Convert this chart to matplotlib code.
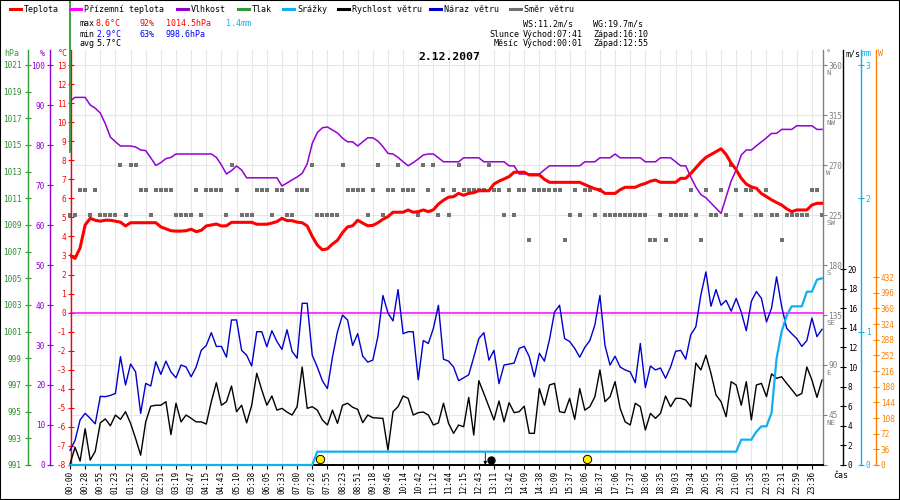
import matplotlib
matplotlib.use("Agg")
import matplotlib.pyplot as plt
import matplotlib.transforms as mtrans
from matplotlib.lines import Line2D
from matplotlib.patches import Rectangle
import numpy as np

plt.rcParams["font.family"] = ["DejaVu Sans Mono", "DejaVu Sans"]
plt.rcParams["axes.unicode_minus"] = False

# ---------------------------------------------------------------- data
DATE = "2.12.2007"
TIME_LABELS = ["00:00", "00:28", "00:55", "01:23", "01:52", "02:20", "02:51", "03:19", "03:47", "04:15",
               "04:43", "05:10", "05:38", "06:05", "06:33", "07:00", "07:28", "07:55", "08:23", "08:51",
               "09:18", "09:46", "10:14", "10:42", "11:12", "11:44", "12:15", "12:43", "13:11", "13:42",
               "14:09", "14:38", "15:09", "15:37", "16:06", "16:37", "17:06", "17:37", "18:06", "18:35",
               "19:03", "19:34", "20:05", "20:33", "21:00", "21:35", "22:03", "22:31", "22:59", "23:36"]
LABEL_EVERY = 3          # one time label every 3 samples

TEMP = [3.0, 2.85, 3.4, 4.6, 4.95, 4.85, 4.8, 4.85, 4.85, 4.8,
        4.75, 4.55, 4.72, 4.72, 4.72, 4.72, 4.72, 4.72, 4.5, 4.4,
        4.3, 4.28, 4.28, 4.3, 4.38, 4.25, 4.32, 4.55, 4.6, 4.65,
        4.55, 4.56, 4.74, 4.74, 4.74, 4.74, 4.74, 4.64, 4.64, 4.64,
        4.7, 4.78, 4.95, 4.83, 4.83, 4.75, 4.72, 4.55, 4.0, 3.55,
        3.3, 3.35, 3.6, 3.8, 4.2, 4.5, 4.56, 4.85, 4.7, 4.56,
        4.58, 4.72, 4.9, 5.04, 5.27, 5.27, 5.27, 5.39, 5.27, 5.3,
        5.39, 5.3, 5.4, 5.7, 5.9, 6.06, 6.09, 6.26, 6.16, 6.26,
        6.3, 6.4, 6.4, 6.4, 6.75, 6.9, 7.02, 7.14, 7.37, 7.37,
        7.37, 7.23, 7.23, 7.23, 7.0, 6.84, 6.84, 6.84, 6.84, 6.84,
        6.84, 6.84, 6.72, 6.61, 6.5, 6.44, 6.26, 6.26, 6.26, 6.45,
        6.58, 6.58, 6.58, 6.7, 6.78, 6.9, 6.96, 6.84, 6.84, 6.84,
        6.84, 7.05, 7.05, 7.3, 7.6, 7.9, 8.15, 8.3, 8.45, 8.6,
        8.3, 7.85, 7.5, 7.05, 6.75, 6.6, 6.53, 6.25, 6.09, 5.92,
        5.78, 5.65, 5.45, 5.3, 5.39, 5.39, 5.39, 5.65, 5.74, 5.74]

GROUND_TEMP = 0.0

HUMIDITY = [91.0, 91.9, 91.9, 91.9, 90.0, 89.2, 88.0, 85.3, 82.0, 80.8,
            79.75, 79.75, 79.75, 79.5, 78.75, 78.6, 76.8, 74.9, 75.6, 76.6,
            76.9, 77.75, 77.75, 77.75, 77.75, 77.75, 77.75, 77.75, 77.75, 76.9,
            75.0, 72.75, 73.6, 74.75, 73.75, 71.8, 71.8, 71.8, 71.8, 71.8,
            71.8, 71.8, 69.75, 70.5, 71.3, 72.0, 72.9, 75.3, 80.4, 83.1,
            84.3, 84.5, 83.75, 83.0, 81.7, 80.8, 80.8, 79.75, 80.8, 81.8,
            81.8, 81.0, 79.6, 77.9, 77.75, 76.9, 75.8, 74.8, 75.6, 76.5,
            77.5, 77.75, 77.75, 76.8, 75.8, 75.8, 75.8, 75.8, 76.8, 76.8,
            76.8, 76.8, 75.8, 75.8, 75.8, 75.8, 75.8, 74.8, 74.8, 72.75,
            72.75, 72.75, 72.75, 72.75, 73.8, 74.8, 74.8, 74.8, 74.8, 74.8,
            74.8, 74.8, 75.8, 75.8, 75.8, 76.8, 76.8, 76.8, 77.75, 76.8,
            76.8, 76.8, 76.8, 76.8, 75.8, 75.8, 75.8, 76.8, 76.8, 76.8,
            75.8, 74.8, 74.8, 72.0, 69.5, 67.6, 66.8, 65.5, 64.2, 62.9,
            67.0, 71.0, 73.75, 77.5, 78.75, 78.75, 79.8, 80.8, 81.8, 82.9,
            82.9, 83.9, 83.9, 83.9, 84.8, 84.8, 84.8, 84.8, 83.9, 83.9]

PRESSURE_MAX = 1014.5     # only a vertical stub is drawn at the first sample

RAIN = [0, 0, 0, 0, 0, 0, 0, 0, 0, 0,
        0, 0, 0, 0, 0, 0, 0, 0, 0, 0,
        0, 0, 0, 0, 0, 0, 0, 0, 0, 0,
        0, 0, 0, 0, 0, 0, 0, 0, 0, 0,
        0, 0, 0, 0, 0, 0, 0, 0, 0, 0.1,
        0.1, 0.1, 0.1, 0.1, 0.1, 0.1, 0.1, 0.1, 0.1, 0.1,
        0.1, 0.1, 0.1, 0.1, 0.1, 0.1, 0.1, 0.1, 0.1, 0.1,
        0.1, 0.1, 0.1, 0.1, 0.1, 0.1, 0.1, 0.1, 0.1, 0.1,
        0.1, 0.1, 0.1, 0.1, 0.1, 0.1, 0.1, 0.1, 0.1, 0.1,
        0.1, 0.1, 0.1, 0.1, 0.1, 0.1, 0.1, 0.1, 0.1, 0.1,
        0.1, 0.1, 0.1, 0.1, 0.1, 0.1, 0.1, 0.1, 0.1, 0.1,
        0.1, 0.1, 0.1, 0.1, 0.1, 0.1, 0.1, 0.1, 0.1, 0.1,
        0.1, 0.1, 0.1, 0.1, 0.1, 0.1, 0.1, 0.1, 0.1, 0.1,
        0.1, 0.1, 0.1, 0.19, 0.19, 0.19, 0.25, 0.29, 0.29, 0.39,
        0.8, 1.0, 1.12, 1.19, 1.19, 1.19, 1.3, 1.3, 1.39, 1.4]

WIND = [0.1, 1.8, 0.4, 3.7, 0.5, 1.4, 4.3, 4.7, 4.0, 5.1,
        4.66, 5.44, 4.25, 2.7, 1.0, 4.4, 6.0, 6.1, 6.1, 6.46,
        3.1, 6.3, 4.4, 5.1, 4.76, 4.4, 4.4, 4.18, 6.46, 8.4,
        6.1, 6.46, 8.06, 5.44, 6.1, 4.3, 6.1, 9.36, 7.65, 6.1,
        7.04, 5.6, 5.78, 5.4, 5.1, 5.95, 10.0, 5.78, 5.95, 5.6,
        4.6, 4.08, 5.6, 4.25, 6.1, 6.3, 5.89, 5.68, 4.32, 5.1,
        4.83, 4.8, 4.76, 1.53, 5.44, 5.95, 7.04, 6.8, 5.1, 5.34,
        5.4, 5.1, 4.08, 4.3, 6.3, 4.25, 3.23, 4.08, 3.9, 6.9,
        3.06, 8.6, 7.3, 5.95, 4.6, 6.53, 4.4, 6.36, 5.34, 5.44,
        6.0, 3.23, 3.23, 7.8, 6.1, 8.16, 8.33, 5.44, 5.34, 6.8,
        4.66, 7.8, 5.6, 5.95, 6.97, 9.7, 6.46, 6.97, 8.5, 5.78,
        4.4, 4.08, 6.3, 5.95, 3.57, 5.27, 4.76, 5.27, 7.04, 5.95,
        6.8, 6.8, 6.63, 5.95, 10.4, 9.7, 11.2, 9.36, 7.14, 6.46,
        4.93, 8.5, 8.16, 6.1, 8.5, 4.6, 8.16, 8.33, 6.97, 9.3,
        8.85, 9.0, 8.33, 7.7, 7.04, 7.3, 10.0, 8.67, 6.9, 8.67]

GUST = [1.5, 2.5, 4.6, 5.27, 4.76, 4.2, 7.0, 6.97, 7.1, 7.3,
        11.05, 8.16, 10.3, 9.5, 5.27, 8.33, 8.06, 10.54, 9.25, 10.6,
        9.5, 8.9, 10.2, 10.0, 9.0, 10.0, 11.7, 12.2, 13.5, 12.1,
        12.1, 11.0, 14.8, 14.8, 11.7, 11.2, 10.1, 13.6, 13.6, 12.07,
        13.7, 12.6, 11.8, 13.8, 11.6, 10.9, 16.5, 16.5, 11.2, 10.0,
        8.6, 7.8, 11.0, 13.6, 15.3, 14.8, 12.2, 13.4, 11.1, 10.5,
        10.7, 13.1, 17.3, 15.5, 14.7, 17.9, 13.4, 13.6, 13.6, 8.7,
        12.7, 12.4, 13.95, 16.3, 10.8, 10.6, 10.0, 8.6, 8.9, 9.2,
        11.0, 12.9, 13.5, 10.7, 11.7, 8.3, 10.2, 10.3, 10.4, 11.9,
        12.1, 11.05, 9.0, 11.4, 10.6, 12.8, 15.6, 16.3, 12.9, 12.6,
        11.9, 11.0, 12.0, 12.7, 14.3, 17.3, 12.2, 10.2, 11.1, 10.0,
        9.7, 9.5, 8.4, 12.4, 7.9, 10.1, 9.7, 9.9, 8.85, 10.0,
        11.6, 11.7, 10.8, 13.3, 14.1, 17.35, 19.7, 16.2, 17.9, 16.3,
        16.8, 15.7, 17.0, 15.6, 13.7, 16.7, 17.7, 17.0, 14.6, 16.0,
        19.2, 16.2, 13.95, 13.4, 12.9, 12.1, 12.7, 15.0, 13.1, 13.85]

WIND_DIR = [225, 225, 247.5, 247.5, 225, 247.5, 225, 225, 225, 225,
            270, 225, 270, 270, 247.5, 247.5, 225, 247.5, 247.5, 247.5,
            247.5, 225, 225, 225, 225, 247.5, 225, 247.5, 247.5, 247.5,
            247.5, 225, 270, 247.5, 225, 225, 225, 247.5, 247.5, 247.5,
            225, 247.5, 247.5, 225, 225, 247.5, 247.5, 247.5, 270, 225,
            225, 225, 225, 225, 270, 247.5, 247.5, 247.5, 247.5, 225,
            247.5, 270, 225, 247.5, 247.5, 270, 247.5, 247.5, 247.5, 225,
            270, 247.5, 270, 225, 247.5, 225, 247.5, 270, 247.5, 247.5,
            247.5, 247.5, 247.5, 270, 247.5, 247.5, 225, 247.5, 225, 247.5,
            247.5, 202.5, 247.5, 247.5, 247.5, 247.5, 247.5, 247.5, 202.5, 225,
            247.5, 225, 247.5, 247.5, 225, 247.5, 225, 225, 225, 225,
            225, 225, 225, 225, 225, 202.5, 202.5, 225, 202.5, 225,
            225, 225, 225, 247.5, 225, 202.5, 247.5, 225, 225, 247.5,
            225, 270, 247.5, 225, 247.5, 247.5, 225, 225, 247.5, 225,
            225, 202.5, 225, 225, 225, 225, 225, 247.5, 247.5, 225]

DIR_TICKS = [0, 45, 90, 135, 180, 225, 270, 315, 360]
DIR_NAMES = ["", "NE", "E", "SE", "S", "SW", "W", "NW", "N"]

SUNRISE, SUNSET = "07:41", "16:10"
MOONRISE, MOONSET = "00:01", "12:55"
STATS = {"t_max": "8.6°C", "h_max": "92%", "p_max": "1014.5hPa", "r_sum": "1.4mm",
         "t_min": "2.9°C", "h_min": "63%", "p_min": "998.6hPa", "t_avg": "5.7°C",
         "ws": "11.2m/s", "wg": "19.7m/s"}

# ---------------------------------------------------------------- colours
C_T, C_GT, C_H, C_P = "#ff0000", "#ff00ff", "#9400d3", "#339933"
C_R, C_WS, C_WG, C_D = "#10b0f0", "#000000", "#0000cc", "#707070"
C_SOL = "#ff8000"

# ---------------------------------------------------------------- layout (pixels)
FW, FH = 900, 500
X0, X1, Y0, Y1 = 70, 823, 50, 465
FS = 5.6


def px(x, y):
    return x / FW, 1 - y / FH


def lim(lo, hi, y_hi):
    # value lo sits on the bottom edge, hi at pixel row y_hi
    return lo, lo + (hi - lo) * (Y1 - Y0) / (Y1 - y_hi)


def axis_frac(xpx):
    return (xpx - X0) / (X1 - X0)


def side_axis(ax, side, xpx, color, ticks, pad=1.5, length=4, direction="inout"):
    for s in ax.spines.values():
        s.set_visible(False)
    sp = ax.spines[side]
    sp.set_visible(True)
    sp.set_position(("axes", axis_frac(xpx)))
    sp.set_color(color)
    sp.set_linewidth(1.0)
    ax.yaxis.set_ticks_position(side)
    ax.set_yticks(ticks)
    ax.tick_params(axis="y", direction=direction, length=length, width=0.8,
                   color=color, labelcolor=color, labelsize=FS, pad=pad)


n = len(TEMP)
idx = np.arange(n)

fig = plt.figure(figsize=(FW / 100, FH / 100), dpi=100)
ax_d = fig.add_axes([X0 / FW, 1 - Y1 / FH, (X1 - X0) / FW, (Y1 - Y0) / FH])
ax_h = ax_d.twinx()
ax_t = ax_d.twinx()
ax_ws = ax_d.twinx()
ax_mm = ax_d.twinx()
ax_w = ax_d.twinx()
ax_p = ax_d.twinx()

ax_d.set_xlim(0, (X1 - X0) / 5.047)

# direction axis + grid (bottom layer)
ax_d.set_ylim(*lim(0, 360, 65))
side_axis(ax_d, "right", X1, "#808080", DIR_TICKS[1:], pad=0.8, length=3, direction="out")
ax_d.spines["bottom"].set_visible(True)
ax_d.spines["bottom"].set_color("black")
ax_d.spines["bottom"].set_linewidth(1.4)
ax_d.set_xticks(idx[::LABEL_EVERY])
ax_d.set_xticklabels(TIME_LABELS, rotation=90, fontsize=FS)
ax_d.tick_params(axis="x", direction="out", length=3, width=0.8, pad=1.5)
ax_d.set_yticks(DIR_TICKS)
ax_d.set_yticklabels([str(d) if d else "" for d in DIR_TICKS])
ax_d.grid(True, color="#e6e6e6", lw=0.8)
ax_d.set_axisbelow(True)
letter_tr = mtrans.offset_copy(mtrans.blended_transform_factory(ax_d.transAxes, ax_d.transData),
                               fig=fig, x=3.2, y=-4.6, units="dots")
for d, name in zip(DIR_TICKS, DIR_NAMES):
    if name:
        ax_d.text(1.0, d, name, transform=letter_tr, color="#808080", fontsize=FS - 0.2,
                  ha="left", va="top")
ax_d.plot(idx, WIND_DIR, "s", color=C_D, ms=3.0, mew=0, clip_on=False)

# humidity
ax_h.set_ylim(*lim(0, 100, 65))
side_axis(ax_h, "left", 50, C_H, range(0, 101, 10))
ax_h.plot(idx, HUMIDITY, color=C_H, lw=1.1)

# temperature
ax_t.set_ylim(*lim(-8, 13, 65))
side_axis(ax_t, "left", 71, C_T, range(-8, 14))
ax_t.axhline(GROUND_TEMP, color=C_GT, lw=1.1)
ax_t.plot(idx, TEMP, color=C_T, lw=2.2)

# wind
ax_ws.set_ylim(*lim(0, 20, 269))
side_axis(ax_ws, "right", 843, "black", range(0, 21, 2))
ax_ws.plot(idx, GUST, color=C_WG, lw=1.0, clip_on=False)
ax_ws.plot(idx, WIND, color=C_WS, lw=1.0, clip_on=False)

# rain
ax_mm.set_ylim(*lim(0, 3, 65))
side_axis(ax_mm, "right", 861, C_R, range(0, 4))
ax_mm.plot(idx, RAIN, color=C_R, lw=1.6, clip_on=False, zorder=5)

# solar radiation axis (no data this day)
ax_w.set_ylim(*lim(0, 432, 277))
side_axis(ax_w, "right", 876, C_SOL, range(0, 433, 36))

# pressure
ax_p.set_ylim(*lim(991, 1021, 65))
side_axis(ax_p, "left", 28, C_P, range(991, 1022, 2), pad=2.5)
ax_p.tick_params(axis="y", labelcolor="#2e8b2e")
ax_p.plot([0, 0], [PRESSURE_MAX, PRESSURE_MAX + 20], color=C_P, lw=1.3, clip_on=False)


# sun / moon markers on the time axis
def t2min(s):
    h, m = s.split(":")
    return int(h) * 60 + int(m)


lab_min = [t2min(s) for s in TIME_LABELS]
lab_idx = idx[::LABEL_EVERY]


def t2idx(s):
    return np.interp(t2min(s), lab_min, lab_idx)


bt = mtrans.blended_transform_factory(ax_mm.transData, ax_mm.transAxes)
for s in (SUNRISE, SUNSET):
    ax_mm.plot([t2idx(s)], [6 / (Y1 - Y0)], "o", transform=bt, ms=6, mfc="#ffee00",
               mec="black", mew=0.7, clip_on=False, zorder=6)
xm = t2idx(MOONSET)
ax_mm.annotate("", xy=(xm, 0), xycoords=bt, xytext=(xm, 12 / (Y1 - Y0)), textcoords=bt,
               arrowprops=dict(arrowstyle="-|>", color="black", lw=0.6, mutation_scale=5,
                               shrinkA=0, shrinkB=0), zorder=6)
moon_tr = mtrans.offset_copy(bt, fig=fig, x=6, y=0, units="dots")
ax_mm.plot([xm], [5 / (Y1 - Y0)], "o", transform=moon_tr, ms=5, color="black", clip_on=False, zorder=6)

# ---------------------------------------------------------------- texts
fig.text(*px(449, 57), DATE, ha="center", va="center", fontsize=8.2, fontweight="bold")

legend = [("Teplota", C_T, 10), ("Přízemní teplota", C_GT, 70), ("Vlhkost", C_H, 177),
          ("Tlak", C_P, 238), ("Srážky", C_R, 283), ("Rychlost větru", C_WS, 338),
          ("Náraz větru", C_WG, 430), ("Směr větru", C_D, 510)]
for label, col, x in legend:
    fig.add_artist(Line2D([x / FW, (x + 11) / FW], [1 - 9 / FH] * 2, color=col, lw=2.2,
                          transform=fig.transFigure))
    fig.text(*px(x + 14, 9), label, fontsize=6, va="center", ha="left")

rows = [(24, [(80, "max", "black"), (96, STATS["t_max"], C_T), (139, STATS["h_max"], C_T),
              (166, STATS["p_max"], C_T), (226, STATS["r_sum"], C_R)]),
        (34, [(80, "min", "black"), (96, STATS["t_min"], "#0000ff"), (139, STATS["h_min"], "#0000ff"),
              (166, STATS["p_min"], "#0000ff")]),
        (44, [(80, "avg", "black"), (96, STATS["t_avg"], "black")])]
for y, items in rows:
    for x, s, col in items:
        fig.text(*px(x, y), s, fontsize=6, va="center", ha="left", color=col)

fig.text(*px(523, 24), "WS:" + STATS["ws"], fontsize=6, va="center")
fig.text(*px(593, 24), "WG:" + STATS["wg"], fontsize=6, va="center")
fig.text(*px(519, 34), "Slunce", fontsize=6, va="center", ha="right")
fig.text(*px(523, 34), "Východ:" + SUNRISE, fontsize=6, va="center")
fig.text(*px(593, 34), "Západ:" + SUNSET, fontsize=6, va="center")
fig.text(*px(519, 44), "Měsíc", fontsize=6, va="center", ha="right")
fig.text(*px(523, 44), "Východ:" + MOONRISE, fontsize=6, va="center")
fig.text(*px(593, 44), "Západ:" + MOONSET, fontsize=6, va="center")

# axis units
for x, s, col in [(4, "hPa", C_P), (40, "%", C_H), (58, "°C", C_T),
                  (826, "°", "#808080"), (845, "m/s", "black"), (862, "mm", C_R), (878, "W", C_SOL)]:
    fig.text(*px(x, 54), s, fontsize=6, va="center", ha="left", color=col)
fig.text(*px(833, 476), "čas", fontsize=6, va="center", ha="left")

fig.add_artist(Rectangle((0, 0), 1, 1, transform=fig.transFigure, fill=False,
                         edgecolor="black", lw=1.5))

fig.savefig("out.png", dpi=100)
